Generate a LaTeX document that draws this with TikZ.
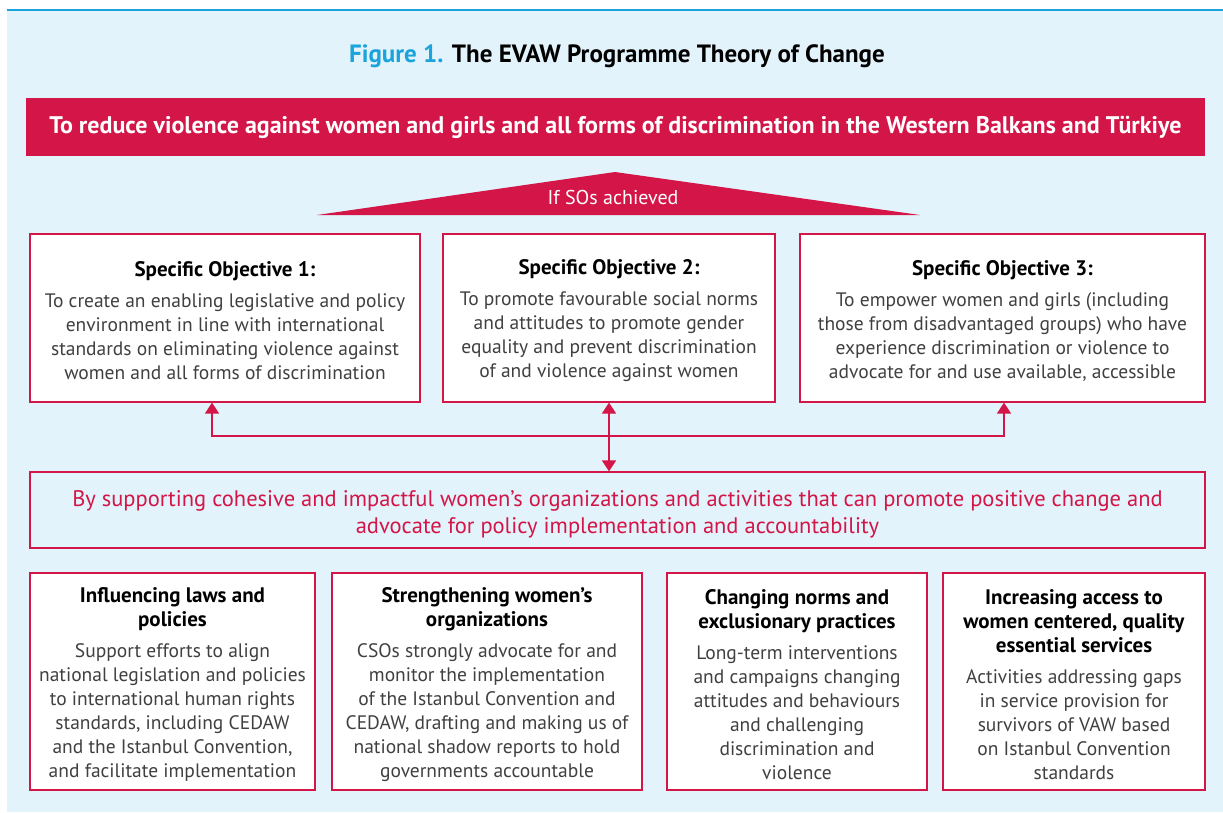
\documentclass[tikz,border=0pt]{standalone}
\usepackage{fontspec}
\setmainfont{PT Sans}
\usepackage{xcolor}
\usepackage{tikz}
\usetikzlibrary{arrows.meta}

\definecolor{evred}{HTML}{D31547}
\definecolor{evblue}{HTML}{1BA3DB}
\definecolor{evsky}{HTML}{E3F3FB}
\definecolor{evgrey}{HTML}{404040}

\newcommand{\sohead}[1]{\textcolor{black}{\fontsize{21}{24}\selectfont\textbf{#1}}}
% strut that pushes the text block a little down in its box
\newcommand{\topstrut}[1]{\rule{0pt}{#1}}

\tikzset{
  box/.style={draw=evred,line width=1.2pt,fill=white,inner sep=0pt,align=center,
    text=evgrey,font=\fontsize{19.5}{24}\selectfont},
  link/.style={evred,line width=1.5pt,>={Triangle[width=14pt,length=11pt]}}
}

\begin{document}
\begin{tikzpicture}[x=1pt,y=-1pt]
\useasboundingbox (0,0) rectangle (1223,812);
\fill[evsky] (7,10) rectangle (1223,812);
\draw[evblue,line width=1.5pt] (7,10) -- (1223,10);

% title and goal
\node[font=\fontsize{25}{28}\selectfont\bfseries] (title) at (617,56)
  {\textcolor{evblue}{Figure 1.} The EVAW Programme Theory of Change};
\node[fill=evred,text=white,minimum width=1179,minimum height=58,inner sep=0pt,
  font=\fontsize{24}{26}\selectfont\bfseries] (goal) at (615.5,127)
  {To reduce violence against women and girls and all forms of discrimination in the Western Balkans and Türkiye};
\fill[evred] (317,215) -- (615,172) -- (920,215) -- cycle;
\node[text=white,font=\fontsize{20}{22}\selectfont] (ifso) at (613,197) {If SOs achieved};

% specific objectives
\begin{scope}[every node/.style={box,minimum height=168}]
\node[minimum width=390] (so1) at (225,318)
  {\sohead{\topstrut{21pt}Specific Objective 1:}\\[7pt]
   To create an enabling legislative and policy\\
   environment in line with international\\
   standards on eliminating violence against\\
   women and all forms of discrimination};
\node[minimum width=332] (so2) at (609,318)
  {\sohead{\topstrut{21pt}Specific Objective 2:}\\[7pt]
   To promote favourable social norms\\
   and attitudes to promote gender\\
   equality and prevent discrimination\\
   of and violence against women};
\node[minimum width=405] (so3) at (1002.5,318)
  {\sohead{\topstrut{21pt}Specific Objective 3:}\\[7pt]
   To empower women and girls (including\\
   those from disadvantaged groups) who have\\
   experience discrimination or violence to\\
   advocate for and use available, accessible};
\end{scope}

% means
\node[box,fill=evsky,text=evred,minimum width=1175,minimum height=76,
  font=\fontsize{22.5}{27}\selectfont] (means) at (617.5,510)
  {\topstrut{25pt}By supporting cohesive and impactful women’s organizations and activities that can promote positive change and\\
   advocate for policy implementation and accountability};

\coordinate (lb) at (212,436);
\coordinate (rb) at (1004,436);
\draw[link,<->] (so1.south -| lb) -- (lb) -- (rb) -- (so3.south -| rb);
\draw[link,<->] (so2.south) -- (so2.south |- means.north);

% pathways
\begin{scope}[every node/.style={box,minimum height=217}]
\node[minimum width=285] (laws) at (172.5,681.5)
  {\sohead{\topstrut{21pt}Influencing laws and}\\
   \sohead{policies}\\[7pt]
   Support efforts to align\\
   national legislation and policies\\
   to international human rights\\
   standards, including CEDAW\\
   and the Istanbul Convention,\\
   and facilitate implementation};
\node[minimum width=310] (orgs) at (487,681.5)
  {\sohead{\topstrut{21pt}Strengthening women’s}\\
   \sohead{organizations}\\[7pt]
   CSOs strongly advocate for and\\
   monitor the implementation\\
   of the Istanbul Convention and\\
   CEDAW, drafting and making us of\\
   national shadow reports to hold\\
   governments accountable};
\node[minimum width=260] (norms) at (797,681.5)
  {\sohead{\topstrut{21pt}Changing norms and}\\
   \sohead{exclusionary practices}\\[7pt]
   Long-term interventions\\
   and campaigns changing\\
   attitudes and behaviours\\
   and challenging\\
   discrimination and\\
   violence};
\node[minimum width=262] (serv) at (1074,681.5)
  {\sohead{\topstrut{21pt}Increasing access to}\\
   \sohead{women centered, quality}\\
   \sohead{essential services}\\[7pt]
   Activities addressing gaps\\
   in service provision for\\
   survivors of VAW based\\
   on Istanbul Convention\\
   standards};
\end{scope}

\end{tikzpicture}
\end{document}
